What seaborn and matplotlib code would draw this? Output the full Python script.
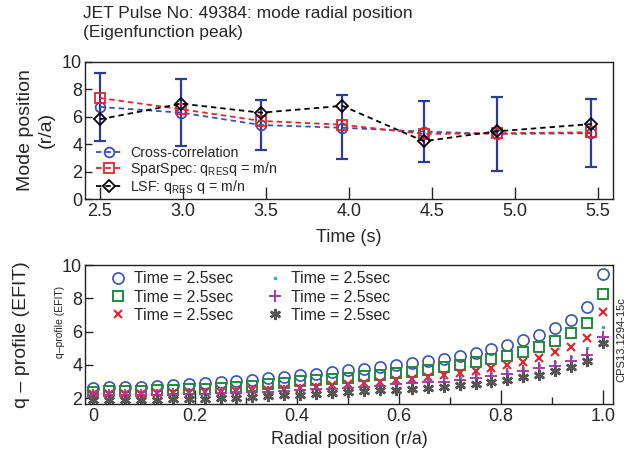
import numpy as np
import pandas as pd
import matplotlib
matplotlib.use("Agg")
import matplotlib.pyplot as plt
import seaborn as sns

# ---------------- data ----------------
time_s = [2.50, 2.99, 3.47, 3.96, 4.45, 4.89, 5.46]
time_ticks = [2.5, 3.0, 3.5, 4.0, 4.5, 5.0, 5.5]
cross_corr = [6.72, 6.30, 5.40, 5.20, 4.92, 4.75, 4.80]
sparspec = [7.37, 6.55, 5.70, 5.42, 4.75, 4.80, 4.87]
lsf = [5.82, 6.96, 6.30, 6.80, 4.22, 4.94, 5.47]
err_high = [9.20, 8.73, 7.22, 7.56, 7.13, 7.45, 7.33]
err_low = [4.24, 3.88, 3.59, 2.92, 2.70, 2.05, 2.34]

radial = [0.000, 0.031, 0.062, 0.094, 0.125, 0.156, 0.188, 0.219, 0.250, 0.281,
          0.312, 0.344, 0.375, 0.406, 0.438, 0.469, 0.500, 0.531, 0.562, 0.594,
          0.625, 0.656, 0.688, 0.719, 0.750, 0.781, 0.812, 0.844, 0.875, 0.906,
          0.938, 0.969, 1.000]
q_circle = [2.62, 2.66, 2.68, 2.70, 2.73, 2.78, 2.84, 2.90, 2.96, 3.03,
            3.12, 3.22, 3.30, 3.40, 3.48, 3.58, 3.68, 3.78, 3.88, 3.98,
            4.09, 4.22, 4.38, 4.55, 4.74, 4.94, 5.20, 5.48, 5.80, 6.20,
            6.70, 7.46, 9.47]
q_square = [2.40, 2.42, 2.44, 2.46, 2.48, 2.50, 2.54, 2.58, 2.62, 2.68,
            2.75, 2.86, 2.93, 3.01, 3.08, 3.15, 3.23, 3.32, 3.41, 3.49,
            3.59, 3.72, 3.85, 3.99, 4.17, 4.35, 4.53, 4.79, 5.05, 5.43,
            5.90, 6.50, 8.25]
q_cross = [2.25, 2.26, 2.27, 2.28, 2.29, 2.31, 2.33, 2.36, 2.39, 2.43,
           2.47, 2.52, 2.57, 2.63, 2.70, 2.77, 2.86, 2.92, 2.98, 3.08,
           3.18, 3.28, 3.39, 3.49, 3.65, 3.83, 3.99, 4.19, 4.43, 4.75,
           5.09, 5.63, 7.16]
q_dot = [2.22, 2.23, 2.24, 2.25, 2.26, 2.27, 2.29, 2.31, 2.33, 2.36,
         2.39, 2.43, 2.47, 2.52, 2.57, 2.62, 2.68, 2.75, 2.82, 2.90,
         2.99, 3.08, 3.19, 3.28, 3.39, 3.49, 3.63, 3.79, 3.99, 4.19,
         4.49, 5.00, 6.30]
q_plus = [2.18, 2.19, 2.20, 2.21, 2.22, 2.23, 2.25, 2.27, 2.29, 2.32,
          2.35, 2.40, 2.44, 2.48, 2.53, 2.58, 2.63, 2.70, 2.76, 2.84,
          2.92, 2.96, 3.00, 3.08, 3.19, 3.33, 3.43, 3.63, 3.79, 3.93,
          4.25, 4.60, 5.70]
q_star = [1.88, 1.89, 1.90, 1.91, 1.92, 1.94, 1.96, 1.98, 2.00, 2.03,
          2.07, 2.12, 2.17, 2.22, 2.27, 2.32, 2.37, 2.42, 2.47, 2.51,
          2.56, 2.60, 2.68, 2.78, 2.88, 2.98, 3.08, 3.28, 3.39, 3.65,
          3.85, 4.23, 5.30]
legend_label = "Time = 2.5sec"

# ---------------- style ----------------
sns.set_theme(style="ticks")
plt.rcParams["font.family"] = ["Liberation Sans", "DejaVu Sans"]
plt.rcParams["mathtext.default"] = "regular"

W, H = 627, 455
fig = plt.figure(figsize=(W / 100, H / 100), dpi=100)

def fx(px):
    return px / W

def fy(py):
    return 1 - py / H

ax1 = fig.add_axes([fx(85), fy(199), fx(613) - fx(85), fy(62) - fy(199)])
ax2 = fig.add_axes([fx(85), fy(404), fx(613) - fx(85), fy(265) - fy(404)])

BLUE = "#3b4fb8"
ERR = "#2c3a98"
RED = "#e8222b"

df1 = pd.DataFrame({"t": time_s, "cc": cross_corr, "ss": sparspec, "lsf": lsf})

yerr = [np.array(cross_corr) - np.array(err_low), np.array(err_high) - np.array(cross_corr)]
ax1.errorbar(time_s, cross_corr, yerr=yerr, fmt="none", ecolor=ERR, elinewidth=1.6,
             capsize=4, capthick=1.6, zorder=2)

common = dict(linestyle=(0, (3, 2.2)), linewidth=1.3, markersize=7,
              markerfacecolor="none", markeredgewidth=1.3, zorder=3)
sns.lineplot(data=df1, x="t", y="cc", ax=ax1, color=BLUE, marker="o",
             markeredgecolor=BLUE, label="Cross-correlation", **common)
sns.lineplot(data=df1, x="t", y="ss", ax=ax1, color=RED, marker="s",
             markeredgecolor=RED, label="SparSpec: q$_{RES}$q = m/n",
             **{**common, "markersize": 6.5})
sns.lineplot(data=df1, x="t", y="lsf", ax=ax1, color="black", marker="D",
             markeredgecolor="black", label="LSF: q$_{RES}$ q = m/n",
             **{**common, "markersize": 6})

ax1.set_xlim(2.41, 5.59)
ax1.set_ylim(0, 10)
ax1.set_xticks(time_ticks)
ax1.set_xticklabels([f"{v:.1f}" for v in time_ticks])
ax1.set_yticks([0, 2, 4, 6, 8, 10])
ax1.tick_params(axis="x", direction="in", length=9, width=1, labelsize=13, pad=3)
ax1.tick_params(axis="y", direction="in", length=5, width=1, labelsize=13, pad=2)
ax1.set_xlabel("")
ax1.set_ylabel("")
ax1.legend(loc="lower left", bbox_to_anchor=(0.0, -0.06), frameon=False,
           fontsize=10.2, handlelength=1.8, handletextpad=0.6,
           labelspacing=0.0, borderpad=0.3)

# ---------------- bottom panel ----------------
df2 = pd.DataFrame({"r": radial, "a": q_circle, "b": q_square, "c": q_cross,
                    "d": q_dot, "e": q_plus, "f": q_star})
specs = [
    ("a", "o", "#3a52b5", 8, "none", 1.2),
    ("b", "s", "#1e8a3a", 7, "none", 1.4),
    ("c", "x", "#e8222b", 6, None, 1.5),
    ("d", ".", "#1fb0c0", 3, None, 1.0),
    ("e", "+", "#a83aa8", 9, None, 1.4),
    ("f", (6, 2, 0), "#555555", 8, None, 1.8),
]
for col, mk, colr, ms, mfc, mew in specs:
    kws = dict(linestyle="", marker=mk, markersize=ms, markeredgecolor=colr,
               markeredgewidth=mew, color=colr, label=legend_label)
    if mfc is not None:
        kws["markerfacecolor"] = mfc
    sns.lineplot(data=df2, x="r", y=col, ax=ax2, **kws)

ax2.set_xlim(-0.0157, 1.0196)
ax2.set_ylim(1.65, 10)
ax2.set_xticks([0, 0.2, 0.4, 0.6, 0.8, 1.0])
ax2.set_xticklabels(["0", "0.2", "0.4", "0.6", "0.8", "1.0"])
ax2.set_xticks([0.1, 0.3, 0.5, 0.7, 0.9], minor=True)
ax2.set_yticks([2, 4, 6, 8, 10])
ax2.tick_params(axis="x", which="major", direction="in", length=10, width=1,
                labelsize=13, pad=3)
ax2.tick_params(axis="x", which="minor", direction="in", length=5, width=1)
ax2.tick_params(axis="y", direction="in", length=6, width=1, labelsize=13, pad=2)
ax2.set_xlabel("")
ax2.set_ylabel("")
ax2.legend(loc="upper left", bbox_to_anchor=(0.023, 1.045), ncol=2, frameon=False,
           fontsize=11.4, handlelength=1.0, handletextpad=0.55, columnspacing=2.1,
           labelspacing=0.2, borderpad=0.3)

for ax in (ax1, ax2):
    for s in ax.spines.values():
        s.set_linewidth(1.0)
        s.set_color("#222222")

# ---------------- texts ----------------
fig.text(fx(83), fy(6), "JET Pulse No: 49384: mode radial position\n(Eigenfunction peak)",
         ha="left", va="top", fontsize=12.5, linespacing=1.35)
fig.text(fx(36), fy(130), "Mode position\n(r/a)", rotation=90, ha="center",
         va="center", fontsize=14, multialignment="center", linespacing=1.25)
fig.text(fx(349), fy(237), "Time (s)", ha="center", va="center", fontsize=13)
fig.text(fx(22), fy(335), "q \u2013 profile (EFIT)", rotation=90, ha="center",
         va="center", fontsize=14)
fig.text(fx(60), fy(322), "q\u2013profile (EFIT)", rotation=90, ha="center",
         va="center", fontsize=7.5)
fig.text(fx(349), fy(440), "Radial position (r/a)", ha="center", va="center",
         fontsize=13)
fig.text(fx(621), fy(340), "CPS13.1294-15c", rotation=90, ha="center",
         va="center", fontsize=8)

fig.savefig("out.png", dpi=100)
